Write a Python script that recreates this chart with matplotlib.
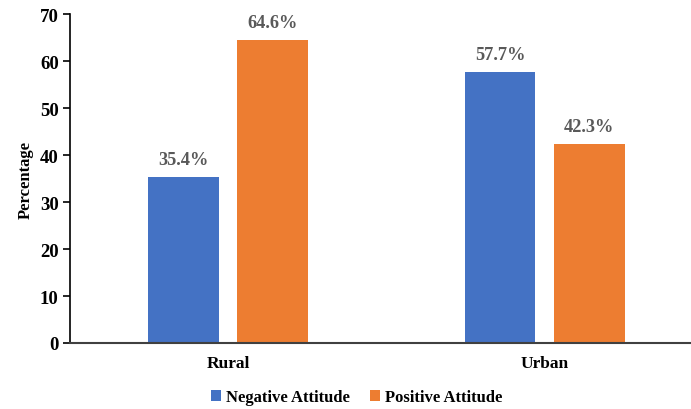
import matplotlib
matplotlib.use("Agg")
import matplotlib.pyplot as plt
import numpy as np

# data
categories = ["Rural", "Urban"]
negative = [35.4, 57.7]
positive = [64.6, 42.3]
series_names = ["Negative Attitude", "Positive Attitude"]
colors = ["#4472C4", "#ED7D31"]

plt.rcParams['font.family'] = ['Liberation Serif', 'DejaVu Serif']
plt.rcParams['font.weight'] = 'bold'

fig = plt.figure(figsize=(6.91, 4.10), dpi=100)
ax = fig.add_axes([0.101, 0.161, 0.898, 0.802])

x = np.arange(len(categories))
w = 0.224
off = 0.141
b1 = ax.bar(x - off, negative, w, color=colors[0], label=series_names[0])
b2 = ax.bar(x + off, positive, w, color=colors[1], label=series_names[1])

for bars, vals in [(b1, negative), (b2, positive)]:
    for r, v in zip(bars, vals):
        ax.text(r.get_x() + r.get_width()/2, v + 1.9, f'{v:.1f}%', ha='center',
                va='bottom', fontsize=13.2, color='#595959', fontweight='bold')

ax.set_xlim(-0.5, 1.46)
ax.set_ylim(0, 70)
ax.set_yticks(range(0, 71, 10))
ax.set_xticks(x)
ax.set_xticklabels(categories)
ax.tick_params(axis='x', length=0, pad=9, labelsize=12.5)
ax.tick_params(axis='y', length=5, width=1.2, labelsize=13.5, pad=3)
for t in ax.get_xticklabels() + ax.get_yticklabels():
    t.set_fontweight('bold')
ax.spines['top'].set_visible(False)
ax.spines['right'].set_visible(False)
ax.spines['left'].set_linewidth(1.2)
ax.spines['bottom'].set_linewidth(1.5)
ax.spines['bottom'].set_color('#404040')
ax.set_ylabel('Percentage', fontsize=12, fontweight='bold', labelpad=4)

ax.legend(loc='center', bbox_to_anchor=(0.463, -0.165), ncol=2, frameon=False,
          handlelength=0.6, handleheight=0.6, handletextpad=0.3,
          columnspacing=1.2, borderpad=0.2, prop={'weight': 'bold', 'size': 12})

fig.savefig('out.png', dpi=100)
